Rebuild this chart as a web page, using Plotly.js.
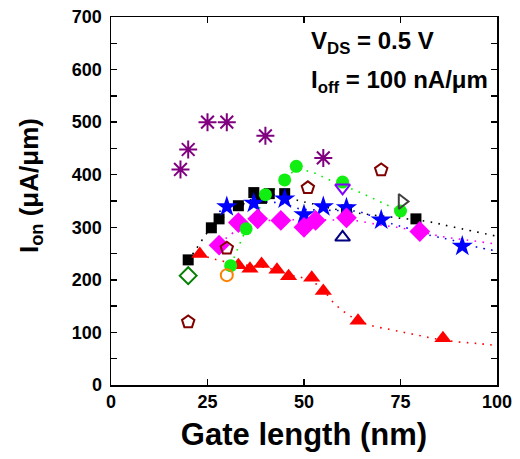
<!DOCTYPE html>
<html>
<head>
<meta charset="utf-8">
<script src="https://cdn.plot.ly/plotly-3.0.1.min.js"></script>
<style>html,body{margin:0;padding:0;background:#fff;}#chart{width:520px;height:459px;}</style>
</head>
<body>
<div id="chart"></div>
<script>
// ---- data ----
var sqX = [20, 26, 28, 33, 37, 39, 41, 45, 61, 79];
var sqY = [238, 299, 316, 341, 366, 355, 364, 364, 333, 316];
var sqFitX = [20, 22, 25, 28, 33, 37, 41, 45, 49, 52, 57, 64, 73, 82, 89, 100];
var sqFitY = [236, 258, 290, 313, 338, 355, 362, 358, 350, 345, 336, 327, 319, 311, 300, 283];

var triX = [23, 33, 36, 39, 43, 46, 52, 55, 64, 86];
var triY = [249, 228, 221, 230, 219, 207, 204, 179, 122, 89];
var triFitX = [23, 27, 33, 41, 46, 50, 54, 58, 62.5, 67, 72, 76, 80, 84, 90, 95, 100];
var triFitY = [249, 239, 230, 222, 210, 203, 188, 154, 129, 114, 106, 100, 94, 88, 82, 79, 75];

var cirX = [31, 35, 40, 45, 48, 60, 75];
var cirY = [227, 297, 362, 390, 416, 386, 331];
var cirFitX = [31, 33, 35, 40, 44, 48, 52, 56, 63, 67, 71, 75];
var cirFitY = [227, 262, 295, 352, 385, 408, 405, 392, 371, 358, 344, 331];

var starX = [30, 37, 45, 50, 55, 61, 70, 91];
var starY = [339, 346, 354, 324, 339, 337, 314, 264];
var starFitX = [28, 33, 37, 41, 45, 49, 53, 58, 64, 67, 73, 77, 83, 87, 91, 95, 100];
var starFitY = [330, 340, 345, 348, 344, 335, 333, 332, 330, 323, 306, 298, 284, 278, 270, 262, 255];

var diaX = [28, 33, 38, 44, 50, 53, 61, 80];
var diaY = [266, 309, 316, 313, 300, 313, 318, 292];
var diaFitX = [28, 33, 38, 44, 50, 57, 63, 70, 74, 80, 86, 92, 100];
var diaFitY = [268, 296, 310, 314, 314, 314, 313, 304, 300, 292, 282, 276, 268];

var astX = [18, 20, 25, 30, 40, 55];
var astY = [410, 448, 500, 500, 474, 432];

var pentX = [20, 30, 51, 70];
var pentY = [120, 260, 375, 409];

var openDiaX = [20];   var openDiaY = [208];
var openCirX = [30];   var openCirY = [209];
var downTriX = [60];   var downTriY = [375];
var upTriX = [60];     var upTriY = [281];
var rightTriX = [75.4]; var rightTriY = [349];

var xTicks = [0, 25, 50, 75, 100];
var yTicks = [0, 100, 200, 300, 400, 500, 600, 700];

// ---- traces ----
var DOT = '1.6px,6.4px';
function fit(x, y, c) {
  return {x: x, y: y, type: 'scatter', mode: 'lines', line: {color: c, width: 1.6, dash: DOT, shape: 'spline'}, hoverinfo: 'skip'};
}
function pts(x, y, sym, c, size, lw) {
  var m = {symbol: sym, size: size, color: c, line: {color: c, width: lw || 0}};
  return {x: x, y: y, type: 'scatter', mode: 'markers', marker: m};
}
var traces = [
  fit(sqFitX, sqFitY, '#000000'),
  fit(triFitX, triFitY, '#ff0000'),
  fit(starFitX, starFitY, '#0000ff'),
  fit(diaFitX, diaFitY, '#ff00ff'),
  fit(cirFitX, cirFitY, '#00ee00'),
  pts(sqX, sqY, 'square', '#000000', 11),
  pts(starX, starY, 'star', '#0000ff', 16),
  pts(diaX, diaY, 'diamond', '#ff00ff', 16),
  pts(triX, triY, 'triangle-up', '#ff0000', 15),
  pts(cirX, cirY, 'circle', '#11ee11', 13),
  pts(astX, astY, 'asterisk-open', '#800080', 15, 2),
  pts(pentX, pentY, 'pentagon-open', '#800000', 13, 2),
  pts(openDiaX, openDiaY, 'diamond-open', '#008000', 13, 2),
  pts(openCirX, openCirY, 'circle-open', '#ff8000', 12, 2),
  pts(downTriX, downTriY, 'triangle-down-open', '#8000ff', 13, 2),
  pts(upTriX, upTriY, 'triangle-up-open', '#000080', 13, 2),
  pts(rightTriX, rightTriY, 'triangle-right-open', '#404040', 13, 2)
];

var fontFam = 'Arial, "Liberation Sans", sans-serif';
var layout = {
  width: 520, height: 459,
  margin: {l: 111, r: 23, t: 17, b: 74},
  paper_bgcolor: '#ffffff', plot_bgcolor: '#ffffff',
  showlegend: false,
  font: {family: fontFam, color: '#000000'},
  xaxis: {
    range: [0, 100], tickvals: xTicks, ticktext: xTicks.map(String),
    showgrid: false, zeroline: false, showline: true, linecolor: '#000', linewidth: 1.5,
    mirror: 'ticks', ticks: 'inside', ticklen: 6, tickwidth: 1.5, tickcolor: '#000',
    tickfont: {size: 18, family: fontFam, weight: 'bold'},
    title: {text: 'Gate length (nm)', font: {size: 31, family: fontFam, weight: 'bold'}, standoff: 12}
  },
  yaxis: {
    range: [0, 700], tickvals: yTicks, ticktext: yTicks.map(String),
    showgrid: false, zeroline: false, showline: true, linecolor: '#000', linewidth: 1.5,
    mirror: 'ticks', ticks: 'inside', ticklen: 6, tickwidth: 1.5, tickcolor: '#000',
    minor: {dtick: 50, ticks: 'inside', ticklen: 6, tickwidth: 1.5, tickcolor: '#000', showgrid: false},
    tickfont: {size: 18, family: fontFam, weight: 'bold'},
    ticklabelstandoff: 4
  },
  annotations: [
    {x: (30 - 111) / 386, y: (385 - 186) / 368, xref: 'paper', yref: 'paper', xanchor: 'center', yanchor: 'middle',
     showarrow: false, textangle: -90,
     text: 'I<sub>on</sub> (\u03bcA/\u03bcm)', font: {size: 26, family: fontFam, weight: 'bold', color: '#000'}},
    {x: 51.3, y: 652, xref: 'x', yref: 'y', xanchor: 'left', yanchor: 'middle', showarrow: false,
     text: 'V<sub>DS</sub> = 0.5 V', font: {size: 24, family: fontFam, weight: 'bold', color: '#000'}},
    {x: 51.3, y: 578, xref: 'x', yref: 'y', xanchor: 'left', yanchor: 'middle', showarrow: false,
     text: 'I<sub>off</sub> = 100 nA/\u03bcm', font: {size: 24, family: fontFam, weight: 'bold', color: '#000'}}
  ]
};
Plotly.newPlot('chart', traces, layout, {displayModeBar: false, staticPlot: true});
</script>
</body>
</html>
